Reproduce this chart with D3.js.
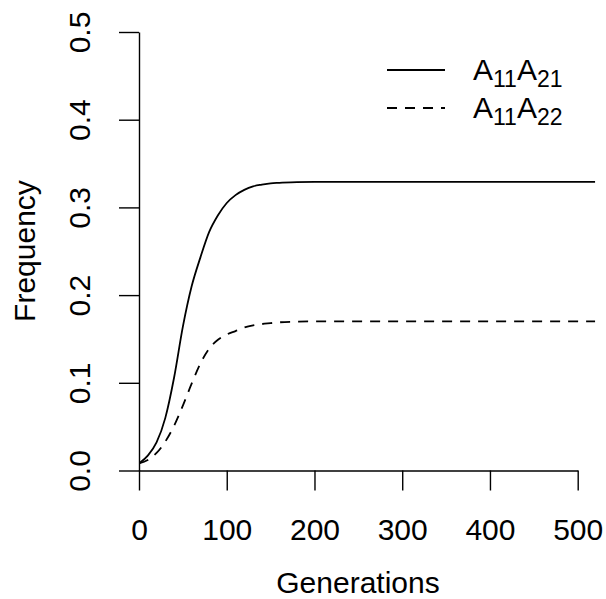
<!DOCTYPE html>
<html>
<head>
<meta charset="utf-8">
<script src="https://cdn.jsdelivr.net/npm/d3@7"></script>
<style>
  body { margin: 0; background: #fff; }
  svg { display: block; font-family: "Liberation Sans", Arial, sans-serif; }
  .axis path, .axis line { stroke: #000; stroke-width: 1.4; }
  .axis text { fill: #000; font-size: 30px; font-family: "Liberation Sans", Arial, sans-serif; }
</style>
</head>
<body>
<svg id="chart" width="606" height="599"></svg>
<script>
// generations sampled along the curves
const gens = [0, 10, 20, 30, 40, 50, 60, 70, 80, 90, 100, 110, 120, 130, 140, 150, 160, 180, 200, 250, 300, 350, 400, 450, 500, 520];
// A11A21 frequency (solid)
const freq21 = [0.008, 0.017, 0.032, 0.060, 0.106, 0.164, 0.210, 0.243, 0.272, 0.291, 0.305, 0.314, 0.320, 0.324, 0.326, 0.3275, 0.328, 0.3288, 0.329, 0.329, 0.329, 0.329, 0.329, 0.329, 0.329, 0.329];
// A11A22 frequency (dashed)
const freq22 = [0.008, 0.012, 0.020, 0.033, 0.051, 0.074, 0.099, 0.122, 0.139, 0.149, 0.155, 0.159, 0.163, 0.1655, 0.167, 0.168, 0.169, 0.1697, 0.170, 0.170, 0.170, 0.170, 0.170, 0.170, 0.170, 0.170];

const xTicks = [0, 100, 200, 300, 400, 500];
const yTicks = [0, 0.1, 0.2, 0.3, 0.4, 0.5];

const svg = d3.select("#chart");

let x = d3.scaleLinear().domain([0, 500]).range([139, 577.7]);
let y = d3.scaleLinear().domain([0, 0.5]).range([470.5, 32]);

// clip region (plot area)
svg.append("clipPath").attr("id", "plotclip")
  .append("rect")
  .attr("x", x(0)).attr("y", y(0.5))
  .attr("width", x(520) - x(0)).attr("height", y(0) - y(0.5));

// x axis
const gx = svg.append("g")
  .attr("class", "axis")
  .attr("transform", "translate(0," + y(0) + ")")
  .call(d3.axisBottom(x).tickValues(xTicks).tickSize(20).tickSizeOuter(0).tickPadding(0));
gx.selectAll(".tick text").attr("dy", null).attr("y", 69);

// y axis
const gy = svg.append("g")
  .attr("class", "axis")
  .attr("transform", "translate(" + x(0) + ",0)")
  .call(d3.axisLeft(y).tickValues(yTicks).tickSize(20).tickSizeOuter(0).tickFormat(d3.format(".1f")));
gy.selectAll(".tick text")
  .attr("x", null).attr("dy", null)
  .attr("text-anchor", "middle")
  .attr("transform", "translate(-49,0) rotate(-90)");

// axis titles
svg.append("text")
  .attr("x", 358)
  .attr("y", 593)
  .attr("text-anchor", "middle")
  .style("font-size", "30px")
  .text("Generations");

svg.append("text")
  .attr("transform", "translate(35,251) rotate(-90)")
  .attr("text-anchor", "middle")
  .style("font-size", "30px")
  .text("Frequency");

// curves
const line = d3.line().x((d, i) => x(gens[i])).y(d => y(d)).curve(d3.curveMonotoneX);

const plot = svg.append("g").attr("clip-path", "url(#plotclip)");

plot.append("path")
  .datum(freq21)
  .attr("d", line)
  .attr("fill", "none")
  .attr("stroke", "#000")
  .attr("stroke-width", 1.8);

plot.append("path")
  .datum(freq22)
  .attr("d", line)
  .attr("fill", "none")
  .attr("stroke", "#000")
  .attr("stroke-width", 1.8)
  .attr("stroke-dasharray", "10,8");

// legend
const legend = [
  { a: "11", b: "21", dash: null },
  { a: "11", b: "22", dash: "10,8" }
];

legend.forEach((d, i) => {
  const ly = 70 + i * 38;
  svg.append("line")
    .attr("x1", 387).attr("x2", 445)
    .attr("y1", ly).attr("y2", ly)
    .attr("stroke", "#000")
    .attr("stroke-width", 1.8)
    .attr("stroke-dasharray", d.dash);

  const t = svg.append("text")
    .attr("x", 473)
    .attr("y", ly + 10)
    .style("font-size", "30px");
  t.append("tspan").text("A");
  t.append("tspan").attr("dy", 7).style("font-size", "23px").text(d.a);
  t.append("tspan").attr("dy", -7).text("A");
  t.append("tspan").attr("dy", 7).style("font-size", "23px").text(d.b);
});
</script>
</body>
</html>
